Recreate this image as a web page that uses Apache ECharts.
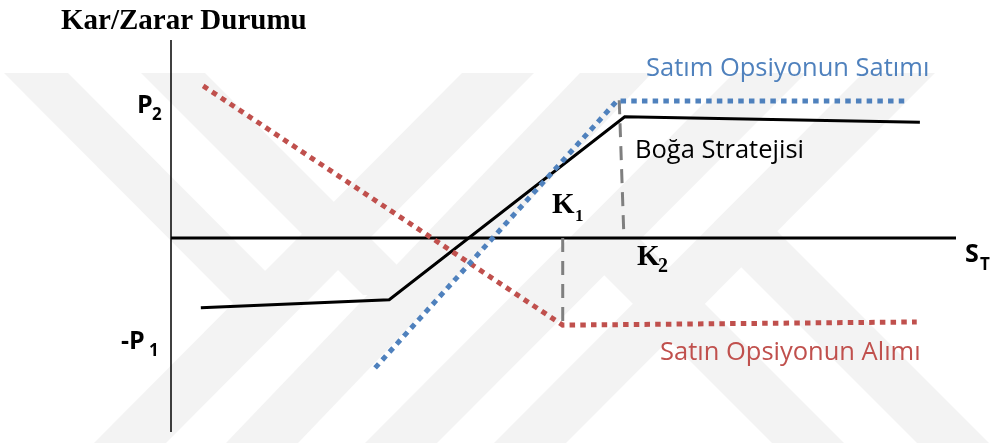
<!DOCTYPE html>
<html>
<head>
<meta charset="utf-8">
<script src="https://cdn.jsdelivr.net/npm/echarts@6/dist/echarts.min.js"></script>
<style>
  html, body { margin: 0; padding: 0; background: #fff; }
  #chart { width: 991px; height: 447px; }
</style>
</head>
<body>
<div id="chart"></div>
<script>
// payoff lines, [S_T, kar/zarar] in arbitrary units (K1 ~ 50, K2 ~ 57)
const satinAlimi = [[4.1, 19.2], [49.9, -11.0], [95.0, -10.6]]
const satimSatimi = [[26.0, -16.4], [56.8, 17.3], [93.8, 17.3]]
const bogaStratejisi = [[3.8, -8.8], [27.8, -7.8], [57.8, 15.3], [95.4, 14.6]]
const k1Guide = [[49.9, 0], [49.9, -11.1]]
const k2Guide = [[57.1, 17.4], [57.7, 0]]
const xAxisLine = [[0, 0], [100, 0]]
const yAxisLine = [[0, 25], [0, -24.5]]

const BLUE = '#4F81BD'
const RED = '#C0504D'
const WM = '#f3f3f3'

const chart = echarts.init(document.getElementById('chart'))

const lineSeries = (data, color, width, type, z) => ({
  type: 'line',
  data,
  symbol: 'none',
  silent: true,
  z,
  lineStyle: { color, width, type, cap: 'butt', join: 'miter' }
})

// text helper for graphic labels
const txt = (text, x, y, font, fill) => ({
  type: 'text',
  x, y,
  silent: true,
  z: 10,
  style: { text, font, fill, textAlign: 'left', textVerticalAlign: 'middle' }
})

// faint background watermark (diagonal Y strokes), pixel space
const band = (x1, y1, x2, y2, w) => ({
  type: 'polygon',
  silent: true,
  z: -10,
  shape: { points: [[x1 - w / 2, y1], [x1 + w / 2, y1], [x2 + w / 2, y2], [x2 - w / 2, y2]] },
  style: { fill: WM }
})
const watermark = [
  band(130, 443, 498, 73, 72),
  band(262, 443, 616, 73, 72),
  band(401, 443, 770, 73, 72),
  band(530, 443, 899, 73, 72),
  band(36, 73, 266, 304, 64),
  band(173, 73, 395, 295, 64),
  band(808, 443, 604, 239, 72),
  band(953, 443, 741, 231, 72)
]

const serifB = 'bold 29px "Liberation Serif", "Times New Roman", serif'
const sansB = 'bold 25px "Open Sans", sans-serif'
const sansSub = 'bold 17px "Open Sans", sans-serif'
const sans = '25.5px "Open Sans", sans-serif'

chart.setOption({
  animation: false,
  backgroundColor: '#fff',
  grid: { left: 171, right: 35, top: 40, bottom: 11 },
  xAxis: { type: 'value', min: 0, max: 100, show: false },
  yAxis: { type: 'value', min: -25, max: 25, show: false },
  series: [
    lineSeries(yAxisLine, '#000', 1.5, 'solid', 2),
    lineSeries(xAxisLine, '#000', 3, 'solid', 2),
    lineSeries(k1Guide, '#7F7F7F', 3, [14, 9], 3),
    lineSeries(k2Guide, '#7F7F7F', 3, [14, 9], 3),
    lineSeries(bogaStratejisi, '#000', 3, 'solid', 4),
    lineSeries(satinAlimi, RED, 5, [5.5, 5.2], 5),
    lineSeries(satimSatimi, BLUE, 5, [5.5, 5.2], 5)
  ],
  graphic: watermark.concat([
    txt('Kar/Zarar Durumu', 61, 22, serifB, '#000'),
    txt('P', 137, 106, sansB, '#000'),
    txt('2', 152, 115, sansSub, '#000'),
    txt('-P', 121, 342, sansB, '#000'),
    txt('1', 149, 351, sansSub, '#000'),
    txt('S', 965, 255, sansB, '#000'),
    txt('T', 980, 265, sansSub, '#000'),
    txt('K', 552, 206, serifB, '#000'),
    txt('1', 575, 217, 'bold 17px "Liberation Serif", serif', '#000'),
    txt('K', 637, 258, serifB, '#000'),
    txt('2', 658, 267, 'bold 20px "Liberation Serif", serif', '#000'),
    txt('Satım Opsiyonun Satımı', 646, 69, sans, BLUE),
    txt('Boğa Stratejisi', 635, 151, sans, '#000'),
    txt('Satın Opsiyonun Alımı', 660, 353, sans, RED)
  ])
})

window.addEventListener('resize', () => chart.resize())
</script>
</body>
</html>
